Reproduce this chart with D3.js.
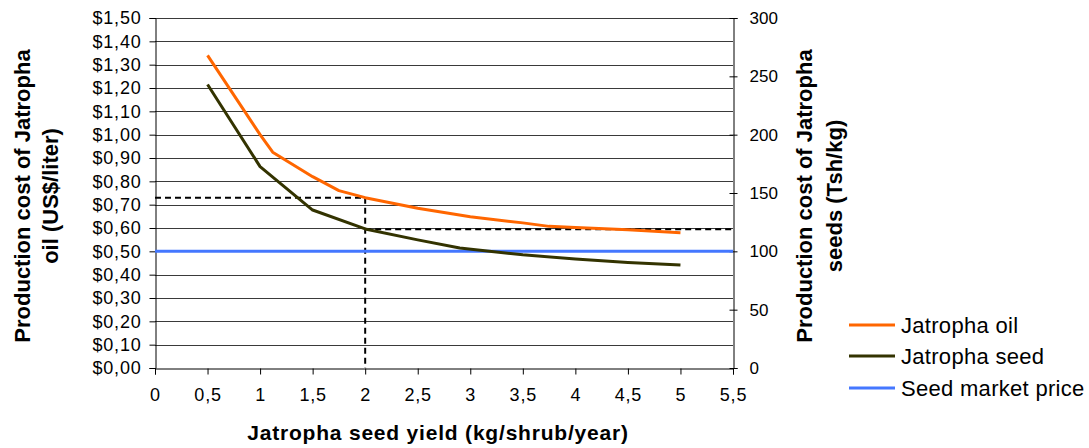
<!DOCTYPE html>
<html>
<head>
<meta charset="utf-8">
<script src="https://cdn.jsdelivr.net/npm/d3@7"></script>
<style>
  html, body { margin: 0; padding: 0; background: #fff; }
  svg { display: block; font-family: "Liberation Sans", Arial, sans-serif; }
</style>
</head>
<body>
<svg id="chart" width="1089" height="448"></svg>
<script>
// ---- data ----
const oilYield = [0.5, 1.0, 1.12, 1.5, 1.75, 2.0, 2.5, 3.0, 3.5, 3.75, 4.0, 4.5, 5.0];
const oilCost  = [1.34, 1.00, 0.925, 0.82, 0.76, 0.73, 0.685, 0.648, 0.622, 0.607, 0.602, 0.592, 0.58]; // US$/liter
const seedYield = [0.5, 1.0, 1.5, 2.0, 2.5, 2.9, 3.5, 4.0, 4.5, 5.0];
const seedCost  = [243, 172.6, 135.4, 119.2, 109.8, 102.8, 97, 93.4, 90.4, 88.2]; // Tsh/kg
const marketYield = [0, 0.5, 1, 1.5, 2, 2.5, 3, 3.5, 4, 4.5, 5, 5.5];
const marketPrice = [100, 100, 100, 100, 100, 100, 100, 100, 100, 100, 100, 100]; // Tsh/kg
const refYield = 2;
const refOil = 0.73;
const refSeed = 119;
const xTicks = [0, 0.5, 1, 1.5, 2, 2.5, 3, 3.5, 4, 4.5, 5, 5.5];
const leftTicks = d3.range(0, 16).map(i => i / 10);
const rightTicks = [0, 50, 100, 150, 200, 250, 300];
const seriesNames = ["Jatropha oil", "Jatropha seed", "Seed market price"];
const seriesColors = ["#ff6600", "#333300", "#4477ff"];

// ---- layout ----
const svg = d3.select("#chart");
const L = 155, R = 733, T = 18, B = 368;
const x = d3.scaleLinear().domain([0, 5.5]).range([L, R]);
const yL = d3.scaleLinear().domain([0, 1.5]).range([B, T]);
const yR = d3.scaleLinear().domain([0, 300]).range([B, T]);
const fmtComma = (f) => (v) => f(v).replace(".", ",");

// gridlines
svg.append("g").selectAll("line").data(leftTicks.filter(d => d > 0))
  .join("line")
  .attr("x1", L).attr("x2", R)
  .attr("y1", d => Math.round(yL(d)) + 0.5).attr("y2", d => Math.round(yL(d)) + 0.5)
  .attr("stroke", "#3a3a3a").attr("stroke-width", 1);

// left axis
const gL = svg.append("g").attr("transform", `translate(${L + 0.5},0)`)
  .call(d3.axisLeft(yL).tickValues(leftTicks).tickSize(6).tickPadding(8)
    .tickFormat(v => "$" + fmtComma(d3.format(".2f"))(v)));
gL.select(".domain").attr("stroke", "#000");
gL.selectAll(".tick line").attr("stroke", "#000");
gL.selectAll("text").attr("font-size", 18).attr("fill", "#000")
  .attr("font-family", "Liberation Sans, Arial, sans-serif").style("letter-spacing", "0.8px");

// right axis
const gR = svg.append("g").attr("transform", `translate(${R + 0.5},0)`)
  .call(d3.axisRight(yR).tickValues(rightTicks).tickSize(4).tickPadding(12));
gR.select(".domain").attr("stroke", "#000");
gR.selectAll(".tick line").attr("stroke", "#000").attr("x1", -4);
gR.selectAll("text").attr("font-size", 17).attr("fill", "#000")
  .attr("font-family", "Liberation Sans, Arial, sans-serif");

// x axis
const gX = svg.append("g").attr("transform", `translate(0,${B + 0.5})`)
  .call(d3.axisBottom(x).tickValues(xTicks).tickSize(6).tickPadding(14)
    .tickFormat(v => String(v).replace(".", ",")));
gX.select(".domain").attr("stroke", "#000");
gX.selectAll(".tick line").attr("stroke", "#000");
gX.selectAll("text").attr("font-size", 18).attr("fill", "#000")
  .attr("font-family", "Liberation Sans, Arial, sans-serif").style("letter-spacing", "0.8px");

// dashed reference lines
const dash = svg.append("g").attr("fill", "none").attr("stroke", "#000")
  .attr("stroke-width", 2).attr("stroke-dasharray", "6,4");
dash.append("line").attr("x1", x(0)).attr("x2", x(refYield))
  .attr("y1", yL(refOil)).attr("y2", yL(refOil));
dash.append("line").attr("x1", x(refYield)).attr("x2", x(refYield))
  .attr("y1", yL(refOil)).attr("y2", yL(0));
dash.append("line").attr("x1", x(refYield)).attr("x2", x(5.5))
  .attr("y1", yR(refSeed)).attr("y2", yR(refSeed));

// series lines
const lineL = d3.line().x(d => x(d[0])).y(d => yL(d[1]));
const lineR = d3.line().x(d => x(d[0])).y(d => yR(d[1]));
svg.append("path").datum(marketYield.map((v, i) => [v, marketPrice[i]]))
  .attr("d", lineR).attr("fill", "none").attr("stroke", seriesColors[2]).attr("stroke-width", 3);
svg.append("path").datum(seedYield.map((v, i) => [v, seedCost[i]]))
  .attr("d", lineR).attr("fill", "none").attr("stroke", seriesColors[1]).attr("stroke-width", 3)
  .attr("stroke-linejoin", "round");
svg.append("path").datum(oilYield.map((v, i) => [v, oilCost[i]]))
  .attr("d", lineL).attr("fill", "none").attr("stroke", seriesColors[0]).attr("stroke-width", 3)
  .attr("stroke-linejoin", "round");

// axis titles
function addTitle(tx, ty, rot, lines, lh) {
  const t = svg.append("text").attr("transform", `translate(${tx},${ty}) rotate(${rot})`)
    .attr("text-anchor", "middle").attr("font-size", 22).attr("font-weight", "bold").attr("fill", "#000");
  lines.forEach((s, i) => t.append("tspan").attr("x", 0).attr("y", i * lh).text(s));
  return t;
}
addTitle(30, 196, -90, ["Production cost of Jatropha", "oil (US$/liter)"], 28);
addTitle(812, 196, -90, ["Production cost of Jatropha", "seeds (Tsh/kg)"], 30);
svg.append("text").attr("x", 438).attr("y", 440).attr("text-anchor", "middle")
  .attr("font-size", 21).attr("font-weight", "bold").style("letter-spacing", "0.8px").text("Jatropha seed yield (kg/shrub/year)");

// legend
const leg = svg.append("g");
const legY = [325, 356, 388];
seriesNames.forEach((n, i) => {
  leg.append("line").attr("x1", 849).attr("x2", 895).attr("y1", legY[i]).attr("y2", legY[i])
    .attr("stroke", seriesColors[i]).attr("stroke-width", 3);
  leg.append("text").attr("x", 901).attr("y", legY[i] + 8).attr("font-size", 22).attr("fill", "#000")
    .style("letter-spacing", "0.3px").text(n);
});
</script>
</body>
</html>
